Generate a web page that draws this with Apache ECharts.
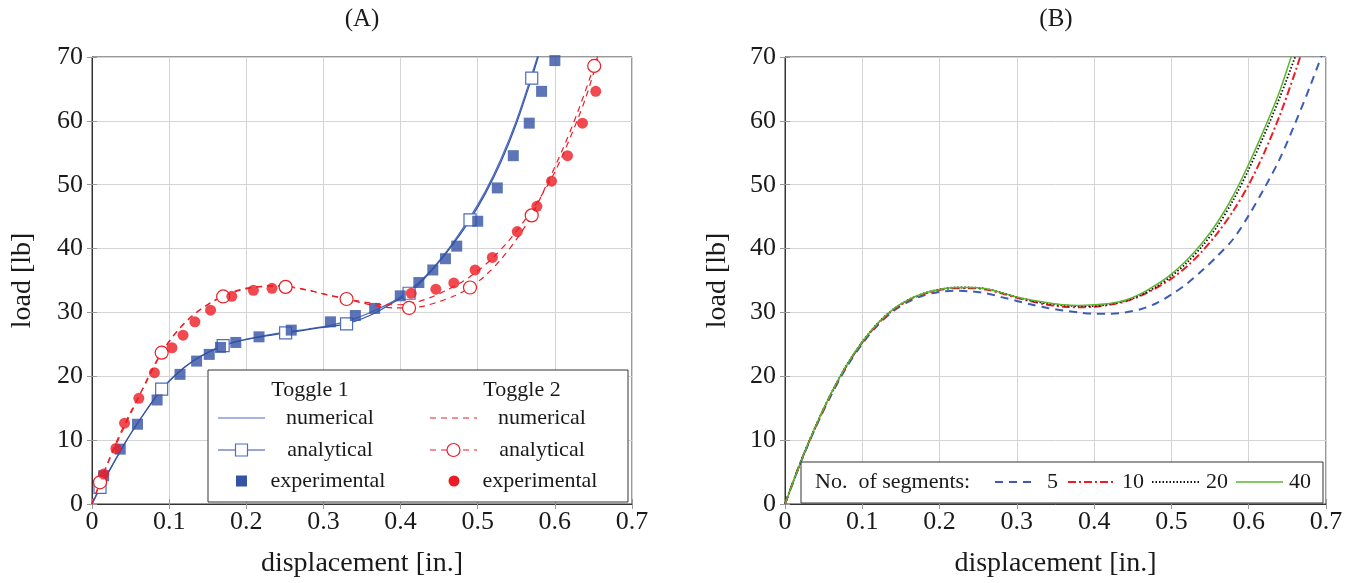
<!DOCTYPE html>
<html><head><meta charset="utf-8">
<script src="https://cdn.jsdelivr.net/npm/echarts@6/dist/echarts.min.js"></script>
<style>html,body{margin:0;padding:0;background:#fff}#c{width:1354px;height:583px}</style>
</head><body><div id="c"></div>
<script>
// ---------- Panel A data ----------
const t1NumX = [0,0.02,0.04,0.06,0.08,0.10,0.12,0.14,0.16,0.18,0.20,0.22,0.25,0.28,0.31,0.34,0.37,0.40,0.43,0.46,0.49,0.51,0.53,0.55,0.57,0.585];
const t1NumY = [0,4.7,9.0,12.8,16.3,19.2,21.4,23.1,24.3,25.2,25.8,26.3,26.9,27.4,28.0,29.0,30.5,32.4,35.4,39.6,44.9,49.0,54.0,60.0,67.2,73.0];
const t1AnaCurveX = [0,0.03,0.05,0.07,0.11,0.13,0.15,0.19,0.21,0.23,0.27,0.29,0.31,0.35,0.37,0.39,0.43,0.45,0.47,0.51,0.53,0.55,0.58,0.59];
const t1AnaCurveY = [0,6.8,11.0,14.6,20.4,22.3,23.7,25.5,26.0,26.4,27.1,27.5,27.8,29.0,30.1,31.5,35.2,37.9,41.0,48.6,53.5,59.5,70.6,74.5];
const t1AnaMarkX = [0.0104,0.0903,0.170,0.251,0.330,0.411,0.490,0.570];
const t1AnaMarkY = [2.6,18.0,24.8,26.8,28.2,33.0,44.5,66.7];
const t1ExpX = [0.0151,0.0366,0.059,0.0844,0.1141,0.1356,0.152,0.1666,0.1864,0.2165,0.2583,0.3091,0.3414,0.3664,0.3996,0.4237,0.4418,0.4582,0.4728,0.500,0.5254,0.5461,0.5668,0.5828,0.600];
const t1ExpY = [4.42,8.59,12.49,16.29,20.3,22.38,23.43,24.52,25.3,26.18,27.23,28.53,29.52,30.63,32.6,34.68,36.65,38.41,40.38,44.28,49.5,54.55,59.64,64.62,69.44];

const t2NumX = [0,0.02,0.04,0.06,0.08,0.10,0.12,0.14,0.16,0.18,0.20,0.22,0.24,0.26,0.28,0.30,0.32,0.34,0.36,0.38,0.40,0.42,0.44,0.46,0.48,0.50,0.52,0.54,0.56,0.58,0.60,0.62,0.64,0.66];
const t2NumY = [0,6.2,11.6,16.6,21.6,25.5,28.3,30.4,32.0,33.1,33.8,34.1,34.2,34.0,33.5,32.9,32.4,31.9,31.5,31.2,31.2,31.6,32.4,33.5,34.8,36.5,38.6,41.2,44.3,47.8,52.0,57.4,63.6,71.5];
const t2AnaCurveX = [0,0.03,0.05,0.07,0.11,0.13,0.15,0.19,0.21,0.23,0.27,0.29,0.31,0.35,0.37,0.39,0.43,0.45,0.47,0.51,0.53,0.55,0.59,0.61,0.63,0.66];
const t2AnaCurveY = [0,9.3,14.4,19.0,27.0,29.5,31.2,33.4,33.9,34.1,33.7,33.2,32.6,31.5,31.0,30.7,31.0,31.7,32.6,35.8,38.3,41.4,50.2,55.5,61.5,71.6];
const t2AnaMarkX = [0.0104,0.0903,0.170,0.251,0.330,0.411,0.490,0.570,0.651];
const t2AnaMarkY = [3.4,23.7,32.5,34.0,32.1,30.7,33.9,45.2,68.6];
const t2ExpX = [0.0151,0.031,0.0422,0.0607,0.0809,0.1037,0.118,0.1334,0.1537,0.1812,0.2092,0.2333,0.4138,0.4457,0.469,0.4966,0.519,0.5513,0.5767,0.5957,0.6164,0.6358,0.653];
const t2ExpY = [4.68,8.69,12.65,16.55,20.56,24.47,26.44,28.53,30.35,32.53,33.47,33.78,33.0,33.64,34.62,36.65,38.62,42.67,46.61,50.56,54.55,59.64,64.62];

// ---------- Panel B data ----------
const bX = [0,0.02,0.04,0.06,0.08,0.10,0.12,0.14,0.16,0.18,0.20,0.22,0.24,0.26,0.28,0.30,0.32,0.34,0.36,0.38,0.40,0.42,0.44,0.46,0.48,0.50,0.52,0.54,0.56,0.58,0.60,0.62,0.64,0.66,0.68,0.70];
const seg5Y  = [0,6.4,12.1,17.1,21.5,25.1,28.0,30.2,31.7,32.7,33.2,33.4,33.3,33.0,32.4,31.8,31.2,30.7,30.3,30.0,29.8,29.8,30.0,30.5,31.4,32.8,34.5,36.6,38.9,41.5,45.2,49.4,54.0,59.6,65.6,72.0];
const seg10Y = [0,6.5,12.2,17.3,21.7,25.3,28.2,30.4,31.9,32.9,33.5,33.8,33.8,33.6,33.0,32.3,31.7,31.2,30.9,30.8,30.9,31.2,31.7,32.6,33.8,35.3,37.2,39.6,42.5,45.9,50.0,55.0,60.8,67.6,75.0,82.0];
const seg20Y = [0,6.5,12.3,17.4,21.8,25.4,28.3,30.5,32.0,33.0,33.6,33.9,33.9,33.7,33.1,32.4,31.8,31.4,31.1,31.0,31.0,31.3,31.8,32.7,34.0,35.7,37.8,40.4,43.6,47.6,52.4,57.8,63.6,70.0,77.0,84.0];
const seg40Y = [0,6.5,12.3,17.4,21.8,25.4,28.3,30.5,32.0,33.0,33.6,33.9,33.9,33.7,33.1,32.4,31.9,31.5,31.2,31.1,31.2,31.4,31.9,32.9,34.3,36.0,38.2,40.9,44.2,48.3,53.2,58.7,64.6,71.8,78.0,85.0];

const xTicks = ['0','0.1','0.2','0.3','0.4','0.5','0.6','0.7'];
const yTicks = ['0','10','20','30','40','50','60','70'];

// ---------- styling ----------
const FONT = 'Liberation Serif';
const TXT = '#1a1a1a';
const BLUE = '#3553a5', BLUE_L = '#4b6cc2', RED = '#ec1c24', GREEN = '#5cb531';

const zip = (xs, ys) => xs.map((x, i) => [x, ys[i]]);
function mergeAna(cx, cy, mx, my, sym, size) {
  const pts = cx.map((x, i) => ({ value: [x, cy[i]], symbol: 'none' }));
  mx.forEach((x, i) => pts.push({ value: [x, my[i]], symbol: sym, symbolSize: size }));
  pts.sort((a, b) => a.value[0] - b.value[0]);
  return pts;
}

const grids = [
  { left: 92, top: 57, width: 540, height: 448, show: true, borderColor: '#333', borderWidth: 1 },
  { left: 785, top: 57, width: 541, height: 448, show: true, borderColor: '#333', borderWidth: 1 }
];

function xMain(gi) {
  return { type: 'value', gridIndex: gi, min: 0, max: 0.7, interval: 0.1,
    name: 'displacement [in.]', nameLocation: 'middle', nameGap: 46,
    nameTextStyle: { fontFamily: FONT, fontSize: 28, color: TXT },
    axisLine: { show: true, onZero: false, lineStyle: { color: '#333', width: 1 } },
    axisTick: { show: true, inside: true, length: 5, lineStyle: { color: '#999' } },
    axisLabel: { fontFamily: FONT, fontSize: 26, color: TXT, margin: 5,
      formatter: v => xTicks[Math.round(v * 10)] },
    splitLine: { show: true, lineStyle: { color: '#d4d4d4', width: 1 } } };
}
function xMirror(gi) {
  return { type: 'value', gridIndex: gi, position: 'top', min: 0, max: 0.7, interval: 0.1,
    axisLine: { show: false }, axisLabel: { show: false }, splitLine: { show: false },
    axisTick: { show: true, inside: true, length: 5, lineStyle: { color: '#999' } } };
}
function yMain(gi, gap) {
  return { type: 'value', gridIndex: gi, min: 0, max: 70, interval: 10,
    name: 'load [lb]', nameLocation: 'middle', nameGap: gap, nameRotate: 90,
    nameTextStyle: { fontFamily: FONT, fontSize: 28, color: TXT },
    axisLine: { show: true, onZero: false, lineStyle: { color: '#333', width: 1 } },
    axisTick: { show: true, inside: true, length: 5, lineStyle: { color: '#999' } },
    axisLabel: { fontFamily: FONT, fontSize: 26, color: TXT, margin: 9,
      formatter: v => yTicks[Math.round(v / 10)] },
    splitLine: { show: true, lineStyle: { color: '#d4d4d4', width: 1 } } };
}
function yMirror(gi) {
  return { type: 'value', gridIndex: gi, position: 'right', min: 0, max: 70, interval: 10,
    axisLine: { show: false }, axisLabel: { show: false }, splitLine: { show: false },
    axisTick: { show: true, inside: true, length: 5, lineStyle: { color: '#999' } } };
}

const series = [
  // Panel A
  { name: 'T1 numerical', type: 'line', xAxisIndex: 0, yAxisIndex: 0, data: zip(t1NumX, t1NumY),
    showSymbol: false, smooth: 0.3, lineStyle: { color: BLUE_L, width: 1.3 }, z: 3 },
  { name: 'T1 analytical', type: 'line', xAxisIndex: 0, yAxisIndex: 0,
    data: mergeAna(t1AnaCurveX, t1AnaCurveY, t1AnaMarkX, t1AnaMarkY, 'rect', 12),
    showSymbol: true, smooth: 0.3, lineStyle: { color: BLUE, width: 1.2 },
    itemStyle: { color: '#ffffff', borderColor: BLUE_L, borderWidth: 1.2 }, z: 3 },
  { name: 'T1 experimental', type: 'scatter', xAxisIndex: 0, yAxisIndex: 0, data: zip(t1ExpX, t1ExpY),
    symbol: 'rect', symbolSize: 11, itemStyle: { color: BLUE }, z: 4 },
  { name: 'T2 numerical', type: 'line', xAxisIndex: 0, yAxisIndex: 0, data: zip(t2NumX, t2NumY),
    showSymbol: false, smooth: 0.3, lineStyle: { color: RED, width: 1.2, type: [6, 5] }, z: 5 },
  { name: 'T2 analytical', type: 'line', xAxisIndex: 0, yAxisIndex: 0,
    data: mergeAna(t2AnaCurveX, t2AnaCurveY, t2AnaMarkX, t2AnaMarkY, 'circle', 13),
    showSymbol: true, smooth: 0.3, lineStyle: { color: RED, width: 1.2, type: [6, 5] },
    itemStyle: { color: '#ffffff', borderColor: RED, borderWidth: 1.2 }, z: 5 },
  { name: 'T2 experimental', type: 'scatter', xAxisIndex: 0, yAxisIndex: 0, data: zip(t2ExpX, t2ExpY),
    symbol: 'circle', symbolSize: 11, itemStyle: { color: RED }, z: 6 },
  // Panel B
  { name: '5', type: 'line', xAxisIndex: 2, yAxisIndex: 2, data: zip(bX, seg5Y), showSymbol: false, smooth: 0.3,
    lineStyle: { color: '#3b5db5', width: 2, type: [8, 6] }, z: 3 },
  { name: '10', type: 'line', xAxisIndex: 2, yAxisIndex: 2, data: zip(bX, seg10Y), showSymbol: false, smooth: 0.3,
    lineStyle: { color: RED, width: 2, type: [8, 3, 2, 3] }, z: 4 },
  { name: '20', type: 'line', xAxisIndex: 2, yAxisIndex: 2, data: zip(bX, seg20Y), showSymbol: false, smooth: 0.3,
    lineStyle: { color: '#111', width: 1.8, type: [1.5, 2] }, z: 5 },
  { name: '40', type: 'line', xAxisIndex: 2, yAxisIndex: 2, data: zip(bX, seg40Y), showSymbol: false, smooth: 0.3,
    lineStyle: { color: GREEN, width: 1.5 }, z: 6 }
];

// ---------- legends (drawn as graphic overlays) ----------
const LF = '22px "Liberation Serif"';
const txt = (s, x, y, align) => ({ type: 'text', z: 101, style: { text: s, x: x, y: y, font: LF, fill: TXT, textAlign: align || 'center', textVerticalAlign: 'middle' } });
const ln = (x1, x2, y, color, dash, w) => ({ type: 'line', z: 101, shape: { x1: x1, y1: y, x2: x2, y2: y }, style: { stroke: color, lineWidth: w || 1.2, lineDash: dash || null } });

const graphic = [
  { type: 'rect', z: 100, shape: { x: 208, y: 370, width: 420, height: 132 }, style: { fill: '#fff', stroke: '#333', lineWidth: 1 } },
  txt('Toggle 1', 310, 390), txt('Toggle 2', 522, 390),
  ln(218, 265, 418, BLUE_L), txt('numerical', 330, 418),
  ln(218, 265, 450, BLUE),
  { type: 'rect', z: 102, shape: { x: 235.5, y: 444, width: 12, height: 12 }, style: { fill: '#fff', stroke: BLUE_L, lineWidth: 1.2 } },
  txt('analytical', 330, 450),
  { type: 'rect', z: 102, shape: { x: 236, y: 475.5, width: 11, height: 11 }, style: { fill: BLUE } },
  txt('experimental', 328, 481),
  ln(430, 477, 418, RED, [6, 5]), txt('numerical', 542, 418),
  ln(430, 477, 450, RED, [6, 5]),
  { type: 'circle', z: 102, shape: { cx: 453.5, cy: 450, r: 6.5 }, style: { fill: '#fff', stroke: RED, lineWidth: 1.2 } },
  txt('analytical', 542, 450),
  { type: 'circle', z: 102, shape: { cx: 454, cy: 481, r: 5.5 }, style: { fill: RED } },
  txt('experimental', 540, 481),

  { type: 'rect', z: 100, shape: { x: 801, y: 462, width: 522, height: 41 }, style: { fill: '#fff', stroke: '#333', lineWidth: 1 } },
  txt('No.\u2002of segments:', 815, 482, 'left'),
  ln(995, 1035, 482, '#3b5db5', [8, 6], 2), txt('5', 1047, 482, 'left'),
  ln(1068, 1115, 482, RED, [8, 3, 2, 3], 2), txt('10', 1122, 482, 'left'),
  ln(1152, 1199, 482, '#111', [1.5, 2], 1.8), txt('20', 1206, 482, 'left'),
  ln(1236, 1283, 482, GREEN, null, 1.5), txt('40', 1289, 482, 'left'),

  { type: 'text', z: 101, style: { text: '(A)', x: 362, y: 19, font: '25px "Liberation Serif"', fill: TXT, textAlign: 'center', textVerticalAlign: 'middle' } },
  { type: 'text', z: 101, style: { text: '(B)', x: 1056, y: 19, font: '25px "Liberation Serif"', fill: TXT, textAlign: 'center', textVerticalAlign: 'middle' } }
];

const chart = echarts.init(document.getElementById('c'));
chart.setOption({
  animation: false,
  backgroundColor: '#fff',
  grid: grids,
  xAxis: [xMain(0), xMirror(0), xMain(1), xMirror(1)],
  yAxis: [yMain(0, 55), yMirror(0), yMain(1, 53), yMirror(1)],
  series: series,
  graphic: graphic
});
</script></body></html>
